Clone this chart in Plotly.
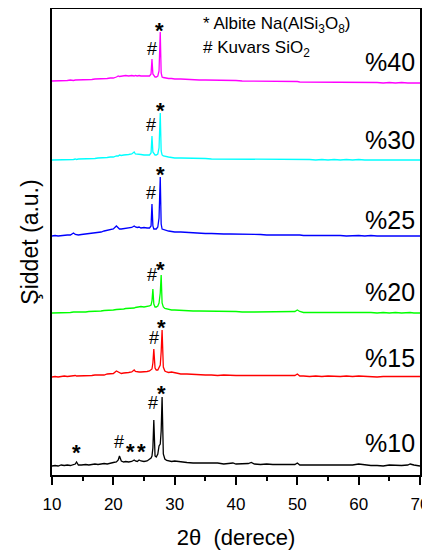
import plotly.graph_objects as go

# ---------------- data ----------------
two_theta = [
    10, 10.5, 11, 11.5, 12, 12.5, 13, 13.5, 13.8, 14.0,
    14.3, 14.8, 15.5, 16, 16.5, 17, 17.5, 18, 18.5, 19,
    19.5, 20, 20.5, 20.8, 21.0, 21.3, 21.7, 22, 22.5, 23,
    23.4, 23.6, 23.9, 24.2, 24.5, 25, 25.5, 25.9, 26.15, 26.3,
    26.45, 26.6, 26.8, 27.0, 27.25, 27.45, 27.65, 27.8, 27.95, 28.15,
    28.4, 28.7, 29, 29.5, 30, 31, 32, 33, 34, 35,
    36, 37, 38, 39, 39.5, 40, 41, 42, 42.5, 43,
    44, 45, 46, 47, 48, 49, 49.6, 50, 50.4, 51,
    52, 53, 54, 55, 56, 57, 58, 59, 60, 61,
    62, 63, 64, 65, 66, 67, 68, 68.4, 69, 70,
]

int_10 = [
    0, 0.5, 0, 1, 0.5, 1, 0.5, 1, 2, 4,
    1, 1, 1.5, 1, 1.5, 2, 1.5, 2, 2.5, 2,
    3, 3.5, 4, 6, 10, 5, 4, 4.5, 4, 4.5,
    6, 5, 4.5, 6, 5, 4.5, 5, 7, 8, 10,
    18, 46, 10, 9, 12, 20, 22, 35, 69, 12,
    7, 5.5, 5, 4.5, 5, 4, 3.5, 3, 3, 2.5,
    2.5, 3, 2, 2.5, 3, 2, 2, 2.5, 3.5, 2,
    1.5, 2, 1.5, 1.5, 1.5, 1, 1.5, 3, 1, 1,
    1, 0.5, 1, 0.5, 1, 0.5, 1, 1, 2, 1,
    0.5, 0.5, 0, 1, 0.5, 0.5, 1, 2, 1, 0,
]

int_15 = [
    0, 0.5, 0, 0.5, 1, 0.5, 1, 1, 1.5, 1,
    1, 1, 1, 1.5, 1.5, 2, 2, 2.5, 2, 3,
    3, 3.5, 6, 5, 4, 3.5, 4, 4, 4.5, 5,
    7, 5.5, 5, 5, 5, 5, 5.5, 6, 7, 8,
    14, 28, 9, 7, 7, 9, 12, 25, 47, 10,
    6, 5, 4.5, 5, 4.5, 3, 3, 2.5, 2, 2,
    2, 1.5, 2, 1.5, 2, 1.5, 1.5, 1.5, 1, 1.5,
    1, 1, 1, 1, 1, 1, 1.5, 3, 1, 1,
    0.5, 1, 0.5, 1, 0.5, 0.5, 1, 0.5, 1, 0.5,
    0.5, 0, 0.5, 0.5, 0, 0.5, 0.5, 0.5, 0, 0.5,
]

int_20 = [
    0, 0, 0.5, 0, 0.5, 0.5, 0.5, 1, 1, 0.5,
    1, 1, 1, 1.5, 1.5, 2, 2, 2, 2.5, 2.5,
    3, 3, 3.5, 3.5, 4, 3.5, 4, 4.5, 4.5, 5,
    5, 5.5, 6, 6, 6.5, 6, 6.5, 7, 8, 12,
    24, 9, 6, 6, 7, 10, 20, 38, 10, 6,
    4.5, 4, 3.5, 3, 3, 2.5, 2.5, 2, 2, 2,
    1.5, 1.5, 1.5, 1.5, 1.5, 1.5, 1, 1.5, 1, 1,
    1, 1, 1, 1, 1, 1, 1.5, 3, 1.5, 0.5,
    0.5, 0.5, 0.5, 0.5, 0.5, 0.5, 0.5, 0.5, 1, 0.5,
    0.5, 0, 0.5, 0, 0.5, 0, 0.5, 0.5, 0, 0,
]

int_25 = [
    0, 0.5, 0, 0.5, 0.5, 1, 1, 3, 1.5, 1,
    1, 1.5, 2, 2, 3, 3, 3.5, 4, 5, 5.5,
    6, 7, 10, 8.5, 7, 7, 7.5, 7.5, 8, 8.5,
    10, 9, 8.5, 9, 8, 8.5, 8, 8, 10, 32,
    10, 7, 7, 7, 9, 18, 59, 12, 7, 6.5,
    6, 5.5, 5, 4.5, 4, 4, 3.5, 3, 3, 2.5,
    2.5, 2, 2, 2, 2, 2, 1.5, 2, 1.5, 1.5,
    1.5, 1, 1, 1, 1, 1, 1, 1.5, 1, 0.5,
    0.5, 1, 0.5, 0.5, 0.5, 0.5, 0, 0.5, 0.5, 0,
    0.5, 0, 0, 0.5, 0, 0, 0.5, 0, 0, 0,
]

int_30 = [
    0, 0, 0.5, 0, 0.5, 0.5, 0.5, 0.5, 1, 0.5,
    1, 1, 1, 1, 1.5, 1.5, 2, 2, 2.5, 2.5,
    3, 3, 4, 4, 5, 4.5, 5, 5, 5.5, 6,
    8, 6, 6, 5.5, 5.5, 5, 5, 5, 7, 24,
    8, 6, 5, 5, 6, 12, 47, 9, 5, 4,
    3.5, 3, 3, 2.5, 2, 2, 2, 1.5, 1.5, 1.5,
    1, 1, 1, 1, 1, 1, 1, 1, 0.5, 0.5,
    0.5, 0.5, 0.5, 0.5, 0.5, 0.5, 1, 1, 0.5, 0.5,
    0.5, 0, 0.5, 0, 0.5, 0, 0.5, 0, 0.5, 0,
    0, 0.5, 0, 0, 0.5, 0, 0, 0.5, 0, 0,
]

int_40 = [
    2, 2, 2.5, 2, 2.5, 2.5, 3, 2.5, 3, 3,
    3, 3, 3.5, 3.5, 3.5, 4, 4, 4, 4.5, 4.5,
    5, 5, 6, 7, 6.5, 7, 7, 7.5, 7, 7.5,
    7, 7.5, 7, 7.5, 7, 7, 7, 7, 9, 24,
    9, 7, 6, 6, 7, 12, 51, 10, 6, 5.5,
    5, 5, 4.5, 4.5, 4, 4, 3.5, 3.5, 3, 3,
    3, 2.5, 2.5, 2.5, 2.5, 2.5, 2, 2, 2, 2,
    2, 1.5, 1.5, 1.5, 1.5, 1.5, 1.5, 1.5, 1, 1,
    1, 1, 1, 0.5, 1, 0.5, 0.5, 0.5, 0.5, 0.5,
    0.5, 0.5, 0, 0.5, 0, 0.5, 0, 0, 0.5, 0,
]

series_labels = ["%10", "%15", "%20", "%25", "%30", "%40"]
series_values = [int_10, int_15, int_20, int_25, int_30, int_40]
offsets = [9, 98, 162, 239, 315, 392]
colors = ["#000000", "#FF0000", "#00FF00", "#0000FF", "#00FFFF", "#FF00FF"]

x_ticks = [10, 20, 30, 40, 50, 60, 70]

for v in series_values:
    assert len(v) == len(two_theta)

FONT = "Arial, Liberation Sans, sans-serif"

fig = go.Figure()
for lab, vals, off, col in zip(series_labels, series_values, offsets, colors):
    fig.add_trace(go.Scatter(
        x=two_theta, y=[off + v for v in vals], mode="lines", name=lab,
        line=dict(color=col, width=1.3), showlegend=False,
    ))

annotations = []
# sample labels
label_dy = [23, 19, 21, 16, 20, 21]
for lab, off, dy in zip(series_labels, offsets, label_dy):
    annotations.append(dict(x=69.45, y=off + dy, text=lab, showarrow=False,
                            xanchor="right", yanchor="middle",
                            font=dict(size=25, color="black", family=FONT)))

# peak markers: (symbol, x, y of glyph centre)
marks = [
    ("*", 27.45, 451), ("#", 26.26, 425.7),
    ("*", 27.61, 371), ("#", 26.09, 350),
    ("*", 27.77, 307), ("#", 26.14, 282),
    ("*", 27.77, 212), ("#", 26.26, 200),
    ("*", 27.93, 153.3), ("#", 26.63, 137),
    ("*", 27.89, 88), ("#", 26.52, 72),
    ("*", 14.03, 28.3), ("#", 20.92, 33), ("*", 22.83, 29.3), ("*", 24.63, 29.3),
]
for sym, mx, my in marks:
    if sym == "*":
        annotations.append(dict(x=mx, y=my - 6, text="<b>*</b>", showarrow=False,
                                xanchor="center", yanchor="middle",
                                font=dict(size=22, color="black", family=FONT)))
    else:
        annotations.append(dict(x=mx, y=my, text="#", showarrow=False,
                                xanchor="center", yanchor="middle",
                                font=dict(size=18, color="black", family=FONT)))

# legend text
annotations.append(dict(x=34.3, y=450, text="* Albite Na(AlSi<sub>3</sub>O<sub>8</sub>)",
                        showarrow=False, xanchor="left", yanchor="middle",
                        font=dict(size=17, color="black", family=FONT)))
annotations.append(dict(x=34.3, y=425.7, text="# Kuvars SiO<sub>2</sub>",
                        showarrow=False, xanchor="left", yanchor="middle",
                        font=dict(size=17, color="black", family=FONT)))

# page body adds an 8 px offset; margins compensate so the frame lands at 52..420 x 9..475
fig.update_layout(
    width=430, height=551,
    margin=dict(l=44, r=18, t=1, b=84),
    paper_bgcolor="white", plot_bgcolor="white",
    annotations=annotations,
    font=dict(family=FONT, color="black"),
)
fig.update_xaxes(
    range=[10, 70], tickvals=x_ticks, ticktext=[str(t) for t in x_ticks],
    ticks="outside", ticklen=8, tickwidth=1.5, tickcolor="black",
    minor=dict(dtick=5, tick0=10, ticks="outside", ticklen=4, tickwidth=1.5, tickcolor="black"),
    showline=True, mirror=True, linecolor="black", linewidth=1.5,
    showgrid=False, zeroline=False, automargin=False,
    tickfont=dict(size=17, family=FONT, color="black"), ticklabelstandoff=5,
    title=dict(text="2θ\u00a0\u00a0(derece)", font=dict(size=22, family=FONT, color="black"), standoff=16),
)
fig.update_yaxes(
    range=[0, 466], showticklabels=False, ticks="",
    showline=True, mirror=True, linecolor="black", linewidth=1.5,
    showgrid=False, zeroline=False, automargin=False,
    title=dict(text="Şiddet (a.u.)", font=dict(size=23, family=FONT, color="black"), standoff=5),
)

fig.write_html("out.html")
